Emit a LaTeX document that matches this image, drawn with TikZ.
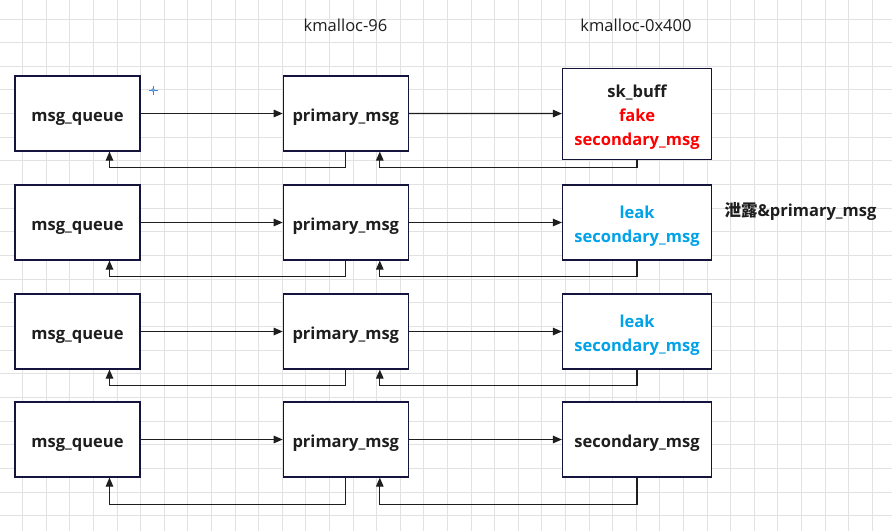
\documentclass[tikz,border=0pt]{standalone}
\usepackage{fontspec}
\setmainfont{Open Sans}
\newfontfamily\cjk{Noto Sans CJK SC}
\usetikzlibrary{arrows.meta}
\definecolor{ink}{RGB}{30,30,30}
\definecolor{frame}{RGB}{20,20,60}
\definecolor{gridc}{RGB}{226,226,226}
\definecolor{hot}{RGB}{255,0,0}
\definecolor{leakc}{RGB}{0,162,232}
\definecolor{cursor}{RGB}{60,130,220}
\newcommand{\topstrut}{\rule{0pt}{19.5pt}}
\newcommand{\botstrut}{\rule[-4pt]{0pt}{4pt}}

\begin{document}
\begin{tikzpicture}[
  x=1pt, y=-1pt,
  font=\fontsize{16.5}{24}\selectfont,
  box/.style={draw=frame, line width=1.2pt, fill=white, minimum width=125pt,
              minimum height=75pt, inner sep=0pt, text=ink,
              text height=19.5pt, text depth=4pt,
              font=\fontsize{16.5}{24}\selectfont\bfseries},
  slab/.style={box, minimum width=149pt},
  multi/.style={text height=, text depth=, align=center},
  link/.style={draw=ink, line width=1.2pt,
               -{Triangle[length=9pt, width=7.5pt]}},
]
\useasboundingbox (0,0) rectangle (892,531);
% background grid
\fill[white] (0,0) rectangle (892,531);
\foreach \k in {0,...,38}{
  \draw[gridc, line width=1pt] ({-0.9+23.6*\k},0) -- ({-0.9+23.6*\k},531);
}
\foreach \k in {-1,...,22}{
  \draw[gridc, line width=1pt] (0,{19+23.65*\k}) -- (892,{19+23.65*\k});
}

\node[text=ink] (h96) at (345.5,25) {kmalloc-96};
\node[text=ink] (h400) at (636,25) {kmalloc-0x400};

\foreach \r/\y in {1/113.5, 2/222.5, 3/331.5, 4/439.5}{
  \node[box] (q\r) at (77.5,\y) {msg\_queue};
  \node[box] (p\r) at (345.8,\y) {primary\_msg};
}
\node[slab, multi, minimum height=91pt] (s1) at (637,113.6)
  {\topstrut sk\_buff\\\textcolor{hot}{fake}\\\textcolor{hot}{secondary\_msg}\botstrut};
\node[slab, multi] (s2) at (637,222.5)
  {\topstrut\textcolor{leakc}{leak}\\\textcolor{leakc}{secondary\_msg}\botstrut};
\node[slab, multi] (s3) at (637,331.5)
  {\topstrut\textcolor{leakc}{leak}\\\textcolor{leakc}{secondary\_msg}\botstrut};
\node[slab] (s4) at (637,439.5) {secondary\_msg};

\node[anchor=west, text=ink, font=\fontsize{16.5}{20}\selectfont\bfseries] (note) at (721,211.5)
  {{\cjk 泄露}\&primary\_msg};

% little blue cursor mark
\draw[cursor, line width=0.8pt] (148.5,90) -- (157.5,90) (153,85.5) -- (153,94.5);
\draw[cursor, fill=white, line width=0.6pt] (153,90) circle (1.4);

\foreach \r/\d in {1/16, 2/16, 3/16, 4/27}{
  \draw[link] (q\r) -- (p\r);
  \draw[link] (p\r) -- (s\r);
  \path (p\r.south) ++(0,\d) coordinate (fb\r);
  \draw[link] (p\r.south) -- (fb\r) -| ([xshift=32pt]q\r.south);
  \draw[link] (s\r.south) -- (s\r.south |- fb\r) -| ([xshift=34pt]p\r.south);
}
\end{tikzpicture}
\end{document}
